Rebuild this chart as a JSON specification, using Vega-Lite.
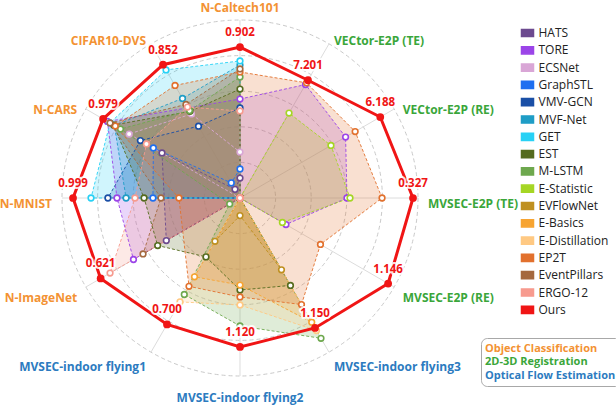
{
  "$schema": "https://vega.github.io/schema/vega-lite/v6.json",
  "width": 616,
  "height": 408,
  "autosize": "none",
  "padding": 0,
  "config": {"view": {"stroke": null}, "font": "Open Sans"},
  "datasets": {
    "scores": [
      {"m": "HATS", "a0": 11.2, "a1": 0, "a2": 0, "a3": 0, "a4": 0, "a5": 0, "a6": 0, "a7": 0, "a8": 47.8, "a9": null, "a10": 50.6, "a11": 5.6},
      {"m": "TORE", "a0": 55.6, "a1": 73.6, "a2": 68.5, "a3": 60.1, "a4": 29.8, "a5": 0, "a6": 0, "a7": 0, "a8": 69.1, "a9": 69.1, "a10": 86.0, "a11": null},
      {"m": "ECSNet", "a0": 25.8, "a1": 0, "a2": 0, "a3": 0, "a4": 0, "a5": 0, "a6": 0, "a7": 0, "a8": null, "a9": null, "a10": 71.9, "a11": 54.5},
      {"m": "GraphSTL", "a0": 16.3, "a1": 0, "a2": 0, "a3": 0, "a4": 0, "a5": 0, "a6": 0, "a7": 0, "a8": null, "a9": 48.9, "a10": 56.2, "a11": 9.8},
      {"m": "VMV-GCN", "a0": 50.6, "a1": 0, "a2": 0, "a3": 0, "a4": 0, "a5": 0, "a6": 0, "a7": 0, "a8": null, "a9": 74.2, "a10": 64.6, "a11": 46.6},
      {"m": "MVF-Net", "a0": 74.7, "a1": 0, "a2": 0, "a3": 0, "a4": 0, "a5": 0, "a6": 0, "a7": 0, "a8": null, "a9": 64.0, "a10": 81.5, "a11": 64.6},
      {"m": "GET", "a0": 77.0, "a1": 0, "a2": 0, "a3": 0, "a4": 0, "a5": 0, "a6": 0, "a7": 0, "a8": null, "a9": 83.7, "a10": 84.3, "a11": 83.1},
      {"m": "EST", "a0": 61.2, "a1": 0, "a2": 0, "a3": 0, "a4": 0, "a5": 56.7, "a6": 51.7, "a7": 38.2, "a8": 53.4, "a9": 53.9, "a10": 82.0, "a11": 56.2},
      {"m": "M-LSTM", "a0": 68.0, "a1": 0, "a2": 0, "a3": 0, "a4": 0, "a5": 91.0, "a6": 71.9, "a7": 62.6, "a8": 6.7, "a9": null, "a10": 77.5, "a11": 56.7},
      {"m": "E-Statistic", "a0": 0, "a1": 55.1, "a2": 59.0, "a3": 61.8, "a4": 27.5, "a5": 0, "a6": 0, "a7": 0, "a8": 0, "a9": 0, "a10": 0, "a11": 0},
      {"m": "EVFlowNet", "a0": 0, "a1": 0, "a2": 0, "a3": 0, "a4": 0, "a5": 46.6, "a6": 9.9, "a7": 28.1, "a8": 0, "a9": 0, "a10": 0, "a11": 0},
      {"m": "E-Basics", "a0": 0, "a1": 0, "a2": 0, "a3": 0, "a4": 0, "a5": 80.6, "a6": 48.9, "a7": 51.1, "a8": 0, "a9": 0, "a10": 0, "a11": 0},
      {"m": "E-Distillation", "a0": 0, "a1": 0, "a2": 0, "a3": 0, "a4": 0, "a5": 86.0, "a6": 60.1, "a7": 67.4, "a8": 0, "a9": 0, "a10": 0, "a11": 0},
      {"m": "EP2T", "a0": 70.8, "a1": 74.7, "a2": 74.7, "a3": 79.8, "a4": 52.2, "a5": 69.1, "a6": 55.6, "a7": 57.3, "a8": null, "a9": 34.3, "a10": 80.9, "a11": 73.0},
      {"m": "EventPillars", "a0": 72.5, "a1": 0, "a2": 0, "a3": 0, "a4": 0, "a5": 0, "a6": 0, "a7": 0, "a8": 62.9, "a9": 44.4, "a10": 84.3, "a11": 60.7},
      {"m": "ERGO-12", "a0": 48.9, "a1": 0, "a2": 0, "a3": 0, "a4": 0, "a5": 0, "a6": 0, "a7": 0, "a8": 84.3, "a9": 59.0, "a10": 60.7, "a11": 59.0},
      {"m": "Ours", "a0": 84.8, "a1": 76.4, "a2": 91.0, "a3": 97.2, "a4": 96.1, "a5": 84.3, "a6": 83.7, "a7": 82.0, "a8": 90.4, "a9": 93.8, "a10": 88.8, "a11": 86.5}
    ],
    "axes": [
      {"idx": 0, "name": "N-Caltech101", "task": "Object Classification", "best": "0.902"},
      {"idx": 1, "name": "VECtor-E2P (TE)", "task": "2D-3D Registration", "best": "7.201"},
      {"idx": 2, "name": "VECtor-E2P (RE)", "task": "2D-3D Registration", "best": "6.188"},
      {"idx": 3, "name": "MVSEC-E2P (TE)", "task": "2D-3D Registration", "best": "0.327"},
      {"idx": 4, "name": "MVSEC-E2P (RE)", "task": "2D-3D Registration", "best": "1.146"},
      {"idx": 5, "name": "MVSEC-indoor flying3", "task": "Optical Flow Estimation", "best": "1.150"},
      {"idx": 6, "name": "MVSEC-indoor flying2", "task": "Optical Flow Estimation", "best": "1.120"},
      {"idx": 7, "name": "MVSEC-indoor flying1", "task": "Optical Flow Estimation", "best": "0.700"},
      {"idx": 8, "name": "N-ImageNet", "task": "Object Classification", "best": "0.621"},
      {"idx": 9, "name": "N-MNIST", "task": "Object Classification", "best": "0.999"},
      {"idx": 10, "name": "N-CARS", "task": "Object Classification", "best": "0.979"},
      {"idx": 11, "name": "CIFAR10-DVS", "task": "Object Classification", "best": "0.852"}
    ],
    "rings": [{"level": 20}, {"level": 40}, {"level": 60}, {"level": 80}, {"level": 100}]
  },
  "encoding": {
    "x": {"field": "x", "type": "quantitative", "scale": {"domain": [-134.83, 211.24], "nice": false, "zero": false}, "axis": null},
    "y": {"field": "y", "type": "quantitative", "scale": {"domain": [-117.98, 111.24], "nice": false, "zero": false}, "axis": null}
  },
  "layer": [
    {
      "data": {"name": "rings"},
      "transform": [
        {"calculate": "0", "as": "x"},
        {"calculate": "0", "as": "y"},
        {"calculate": "pow(datum.level*1.78*2, 2)", "as": "sz"}
      ],
      "mark": {"type": "point", "shape": "circle", "filled": false, "stroke": "#c9c9c9", "strokeDash": [4, 3], "strokeWidth": 1, "opacity": 1},
      "encoding": {"size": {"field": "sz", "type": "quantitative", "scale": null, "legend": null}}
    },
    {
      "data": {"name": "axes"},
      "transform": [
        {"calculate": "0", "as": "x"},
        {"calculate": "0", "as": "y"},
        {"calculate": "100*sin(datum.idx*PI/6)", "as": "x2"},
        {"calculate": "100*cos(datum.idx*PI/6)", "as": "y2"}
      ],
      "mark": {"type": "rule", "color": "#dcdcdc", "strokeWidth": 1},
      "encoding": {"x2": {"field": "x2"}, "y2": {"field": "y2"}}
    },
    {
      "data": {"name": "scores"},
      "transform": [
        {"filter": "datum.m !== 'Ours'"},
        {"fold": ["a0", "a1", "a2", "a3", "a4", "a5", "a6", "a7", "a8", "a9", "a10", "a11"], "as": ["key", "v"]},
        {"filter": "isValid(datum.v)"},
        {"calculate": "toNumber(substring(datum.key,1))", "as": "idx"},
        {"calculate": "datum.v*sin(datum.idx*PI/6)", "as": "x"},
        {"calculate": "datum.v*cos(datum.idx*PI/6)", "as": "y"}
      ],
      "mark": {"type": "line", "interpolate": "linear-closed", "filled": true, "fillOpacity": 0.22, "strokeOpacity": 0},
      "encoding": {
        "color": {
          "field": "m", "type": "nominal",
          "scale": {
            "domain": ["HATS", "TORE", "ECSNet", "GraphSTL", "VMV-GCN", "MVF-Net", "GET", "EST", "M-LSTM", "E-Statistic", "EVFlowNet", "E-Basics", "E-Distillation", "EP2T", "EventPillars", "ERGO-12", "Ours"],
            "range": ["#6C4A8F", "#9B44E8", "#D9A6D6", "#1F6FF0", "#1A4FA6", "#1F9DC6", "#28D1F5", "#556B1E", "#6EA84E", "#A5D624", "#BF9020", "#F7A431", "#FFC983", "#E2712E", "#A5693F", "#F79B8F", "#F01515"]
          },
          "legend": {
            "orient": "none", "legendX": 520.5, "legendY": 26, "title": null,
            "symbolType": "M-1,-0.6L1,-0.6L1,0.6L-1,0.6Z", "symbolSize": 144,
            "labelFontSize": 12, "labelColor": "#222", "labelFont": "Open Sans",
            "rowPadding": 3.3, "labelOffset": 4, "padding": 0,
            "encode": {"symbols": {"update": {"fill": {"scale": "color", "field": "value"}, "stroke": {"value": "transparent"}, "opacity": {"value": 1}, "fillOpacity": {"value": 1}}}}
          }
        },
        "order": {"field": "idx", "type": "quantitative"}
      }
    },
    {
      "data": {"name": "scores"},
      "transform": [
        {"filter": "datum.m !== 'Ours'"},
        {"fold": ["a0", "a1", "a2", "a3", "a4", "a5", "a6", "a7", "a8", "a9", "a10", "a11"], "as": ["key", "v"]},
        {"filter": "isValid(datum.v)"},
        {"calculate": "toNumber(substring(datum.key,1))", "as": "idx"},
        {"calculate": "datum.v*sin(datum.idx*PI/6)", "as": "x"},
        {"calculate": "datum.v*cos(datum.idx*PI/6)", "as": "y"}
      ],
      "mark": {"type": "line", "interpolate": "linear-closed", "strokeDash": [3, 2], "strokeWidth": 1, "opacity": 0.9},
      "encoding": {
        "color": {"field": "m", "type": "nominal"},
        "order": {"field": "idx", "type": "quantitative"}
      }
    },
    {
      "data": {"name": "scores"},
      "transform": [
        {"filter": "datum.m !== 'Ours'"},
        {"fold": ["a0", "a1", "a2", "a3", "a4", "a5", "a6", "a7", "a8", "a9", "a10", "a11"], "as": ["key", "v"]},
        {"filter": "isValid(datum.v)"},
        {"calculate": "toNumber(substring(datum.key,1))", "as": "idx"},
        {"calculate": "datum.v*sin(datum.idx*PI/6)", "as": "x"},
        {"calculate": "datum.v*cos(datum.idx*PI/6)", "as": "y"}
      ],
      "mark": {"type": "point", "shape": "circle", "filled": false, "fill": "white", "fillOpacity": 1, "opacity": 1, "strokeWidth": 1.6, "size": 32},
      "encoding": {"color": {"field": "m", "type": "nominal"}}
    },
    {
      "data": {"name": "scores"},
      "transform": [
        {"filter": "datum.m === 'Ours'"},
        {"fold": ["a0", "a1", "a2", "a3", "a4", "a5", "a6", "a7", "a8", "a9", "a10", "a11"], "as": ["key", "v"]},
        {"filter": "isValid(datum.v)"},
        {"calculate": "toNumber(substring(datum.key,1))", "as": "idx"},
        {"calculate": "datum.v*sin(datum.idx*PI/6)", "as": "x"},
        {"calculate": "datum.v*cos(datum.idx*PI/6)", "as": "y"}
      ],
      "mark": {"type": "line", "interpolate": "linear-closed", "strokeWidth": 3},
      "encoding": {
        "color": {"field": "m", "type": "nominal"},
        "order": {"field": "idx", "type": "quantitative"}
      }
    },
    {
      "data": {"name": "scores"},
      "transform": [
        {"filter": "datum.m === 'Ours'"},
        {"fold": ["a0", "a1", "a2", "a3", "a4", "a5", "a6", "a7", "a8", "a9", "a10", "a11"], "as": ["key", "v"]},
        {"filter": "isValid(datum.v)"},
        {"calculate": "toNumber(substring(datum.key,1))", "as": "idx"},
        {"calculate": "datum.v*sin(datum.idx*PI/6)", "as": "x"},
        {"calculate": "datum.v*cos(datum.idx*PI/6)", "as": "y"},
        {"lookup": "idx", "from": {"data": {"name": "axes"}, "key": "idx", "fields": ["best"]}}
      ],
      "layer": [
        {
          "mark": {"type": "point", "shape": "circle", "filled": true, "opacity": 1, "size": 60},
          "encoding": {"color": {"field": "m", "type": "nominal"}}
        },
        {
          "mark": {"type": "text", "dy": -14, "fontSize": 11.5, "fontWeight": "bold", "fill": "white", "stroke": "white", "strokeWidth": 4, "strokeOpacity": 0.85, "strokeJoin": "round"},
          "encoding": {"text": {"field": "best"}}
        },
        {
          "mark": {"type": "text", "dy": -14, "fontSize": 11.5, "fontWeight": "bold", "color": "#F01515"},
          "encoding": {"text": {"field": "best"}}
        }
      ]
    },
    {
      "data": {"name": "axes"},
      "transform": [
        {"calculate": "105.6*sin(datum.idx*PI/6)", "as": "x"},
        {"calculate": "105.6*cos(datum.idx*PI/6)", "as": "y"}
      ],
      "layer": [
        {
          "transform": [{"filter": "datum.idx >= 1 && datum.idx <= 5"}],
          "mark": {"type": "text", "align": "left", "baseline": "middle", "dy": 6, "fontSize": 12, "fontWeight": "bold"},
          "encoding": {
            "text": {"field": "name"},
            "color": {"condition": [{"test": "datum.task === 'Object Classification'", "value": "#F39233"}, {"test": "datum.task === '2D-3D Registration'", "value": "#3AA63A"}], "value": "#2C7BC0"}
          }
        },
        {
          "transform": [{"filter": "datum.idx >= 7"}],
          "mark": {"type": "text", "align": "right", "baseline": "middle", "dy": 6, "fontSize": 12, "fontWeight": "bold"},
          "encoding": {
            "text": {"field": "name"},
            "color": {"condition": [{"test": "datum.task === 'Object Classification'", "value": "#F39233"}, {"test": "datum.task === '2D-3D Registration'", "value": "#3AA63A"}], "value": "#2C7BC0"}
          }
        },
        {
          "transform": [{"filter": "datum.idx === 0"}],
          "mark": {"type": "text", "align": "center", "baseline": "middle", "dy": -2, "fontSize": 12, "fontWeight": "bold"},
          "encoding": {
            "text": {"field": "name"},
            "color": {"condition": [{"test": "datum.task === 'Object Classification'", "value": "#F39233"}, {"test": "datum.task === '2D-3D Registration'", "value": "#3AA63A"}], "value": "#2C7BC0"}
          }
        },
        {
          "transform": [{"filter": "datum.idx === 6"}],
          "mark": {"type": "text", "align": "center", "baseline": "middle", "dy": 12, "fontSize": 12, "fontWeight": "bold"},
          "encoding": {
            "text": {"field": "name"},
            "color": {"condition": [{"test": "datum.task === 'Object Classification'", "value": "#F39233"}, {"test": "datum.task === '2D-3D Registration'", "value": "#3AA63A"}], "value": "#2C7BC0"}
          }
        },
        {
          "mark": {"type": "point", "opacity": 0},
          "encoding": {
            "shape": {
              "field": "task", "type": "nominal",
              "scale": {"domain": ["Object Classification", "2D-3D Registration", "Optical Flow Estimation"]},
              "legend": {
                "orient": "none", "legendX": 481, "legendY": 338, "title": null,
                "symbolSize": 0.01, "symbolOpacity": 0, "symbolStrokeWidth": 0, "labelOffset": -12,
                "labelFontSize": 11, "labelFontWeight": "bold", "labelFont": "Open Sans",
                "labelColor": {"expr": "datum.label === 'Object Classification' ? '#F39233' : datum.label === '2D-3D Registration' ? '#3AA63A' : '#2C7BC0'"},
                "padding": 5, "rowPadding": 1.6, "strokeColor": "#a8a8a8", "cornerRadius": 6, "fillColor": "white",
                "encode": {
                  "legend": {"update": {"strokeDash": {"value": [4, 3]}, "stroke": {"value": "#a8a8a8"}, "width": {"value": 131}, "height": {"value": 46}, "cornerRadius": {"value": 6}}}
                }
              }
            }
          }
        }
      ]
    }
  ]
}
